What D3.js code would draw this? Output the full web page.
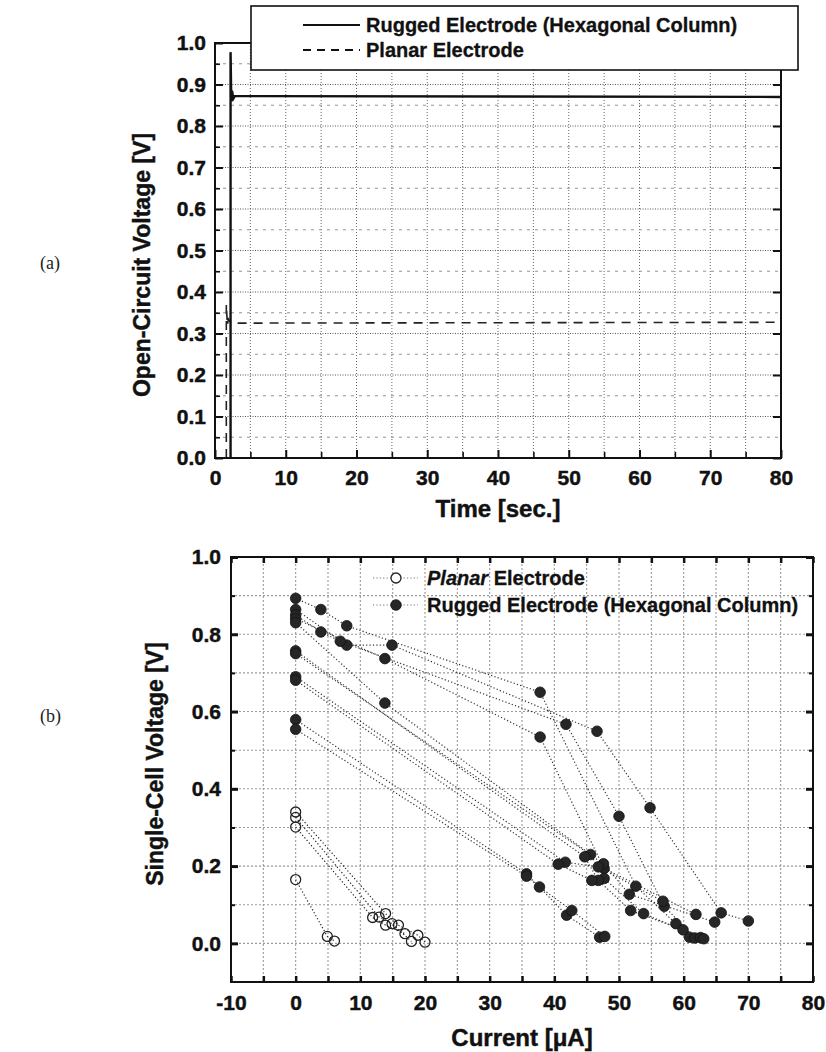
<!DOCTYPE html>
<html>
<head>
<meta charset="utf-8">
<script src="https://cdn.jsdelivr.net/npm/d3@7"></script>
<style>
  body{margin:0;background:#fff;}
  svg{display:block;font-family:"Liberation Sans",Arial,sans-serif;}
</style>
</head>
<body>
<svg id="fig" width="826" height="1052"></svg>
<script>
// ---- panel (a): open-circuit voltage vs time ----
var timeTicks = [0, 10, 20, 30, 40, 50, 60, 70, 80];
var ocvTicks = [0.0, 0.1, 0.2, 0.3, 0.4, 0.5, 0.6, 0.7, 0.8, 0.9, 1.0];

var ruggedTime = [2.2, 2.2, 2.3, 2.4, 2.6, 2.8, 80];
var ruggedOcv  = [0.0, 0.978, 0.86, 0.885, 0.866, 0.872, 0.870];
var planarTime = [1.6, 1.6, 1.75, 1.9, 2.3, 80];
var planarOcv  = [0.0, 0.37, 0.32, 0.335, 0.325, 0.327];

// ---- panel (b): single-cell voltage vs current ----
var currentTicks = [-10, 0, 10, 20, 30, 40, 50, 60, 70, 80];
var cellTicks = [0.0, 0.2, 0.4, 0.6, 0.8, 1.0];

// planar electrode, one array per sweep
var planarCurrent = [
  [0, 13.9, 15.9, 18.9, 20.0],
  [0, 12.9, 14.9, 17.9],
  [0, 11.9, 13.9, 16.9],
  [0, 4.9, 6.0]
];
var planarVoltage = [
  [0.340, 0.077, 0.047, 0.021, 0.003],
  [0.326, 0.068, 0.051, 0.005],
  [0.301, 0.067, 0.047, 0.025],
  [0.165, 0.018, 0.006]
];

// rugged electrode (hexagonal column), one array per sweep
var ruggedCurrent = [
  [0, 3.9, 7.9, 37.8, 52.6, 58.8, 60.9],
  [0, 7.9, 14.9, 46.6, 54.8, 65.8, 70.0],
  [0, 3.9, 6.9, 41.8, 50.0, 57.0, 61.7],
  [0, 13.8, 37.8, 47.7, 61.9],
  [0, 13.8, 45.6, 47.7, 53.8, 62.6],
  [0, 44.7, 46.8, 51.8, 59.9, 63.1],
  [0, 47.6, 51.6, 64.8],
  [0, 41.7, 46.8, 56.8],
  [0, 40.6, 45.8],
  [0, 35.7, 41.9, 47.0],
  [0, 35.7, 37.7, 42.7, 47.8]
];
var ruggedVoltage = [
  [0.893, 0.864, 0.822, 0.650, 0.148, 0.051, 0.016],
  [0.864, 0.772, 0.772, 0.549, 0.351, 0.079, 0.058],
  [0.850, 0.806, 0.782, 0.567, 0.329, 0.096, 0.014],
  [0.840, 0.737, 0.534, 0.194, 0.075],
  [0.830, 0.622, 0.230, 0.168, 0.077, 0.015],
  [0.757, 0.224, 0.163, 0.085, 0.035, 0.012],
  [0.750, 0.206, 0.127, 0.055],
  [0.690, 0.210, 0.198, 0.109],
  [0.681, 0.205, 0.163],
  [0.579, 0.180, 0.073, 0.016],
  [0.554, 0.174, 0.146, 0.085, 0.018]
];

var svg = d3.select("#fig");
var FONT = "Liberation Sans, Arial, sans-serif";

// midpoints between ticks, used for minor ticks / grid
function mids(arr){
  return d3.pairs(arr).map(function(p){ return (p[0] + p[1]) / 2; });
}

function hGrid(g, xs, ys, vals, color, dash, w){
  g.selectAll(null).data(vals).enter().append("line")
    .attr("x1", xs.range()[0]).attr("x2", xs.range()[1])
    .attr("y1", function(d){ return ys(d); }).attr("y2", function(d){ return ys(d); })
    .attr("stroke", color).attr("stroke-width", w).attr("stroke-dasharray", dash);
}
function vGrid(g, xs, ys, vals, color, dash, w){
  g.selectAll(null).data(vals).enter().append("line")
    .attr("y1", ys.range()[0]).attr("y2", ys.range()[1])
    .attr("x1", function(d){ return xs(d); }).attr("x2", function(d){ return xs(d); })
    .attr("stroke", color).attr("stroke-width", w).attr("stroke-dasharray", dash);
}

// heavy bold text like the scanned figure
function heavy(sel){
  sel.attr("font-weight", "bold").attr("fill", "#111")
    .attr("stroke", "#111").attr("stroke-width", 0.45);
}

// styles an axis group: bold labels, thick ticks, no domain
function styleAxis(g, fs, tw){
  g.attr("font-family", FONT).attr("font-size", fs);
  g.select(".domain").remove();
  g.selectAll(".tick line").attr("stroke", "#111").attr("stroke-width", tw);
  g.selectAll(".tick text").call(heavy);
}

var plainNum = function(d){ return String(d); };   // keeps "-10" with a hyphen

/* ================= panel (a) ================= */
var xa = d3.scaleLinear().domain([0, 80]).range([215, 781]);
var ya = d3.scaleLinear().domain([0, 1]).range([458, 43]);
var ga = svg.append("g");

vGrid(ga, xa, ya, d3.range(5, 80, 5), "#555", "1,2", 0.9);
hGrid(ga, xa, ya, ocvTicks.slice(1, -1), "#444", "1,1.5", 0.9);
hGrid(ga, xa, ya, mids(ocvTicks), "#888", "3,5", 0.9);

var lineA = d3.line().x(function(d){ return xa(d[0]); }).y(function(d){ return ya(d[1]); });

ga.append("path")
  .datum(d3.zip(planarTime, planarOcv))
  .attr("d", lineA).attr("fill", "none")
  .attr("stroke", "#222").attr("stroke-width", 1.6).attr("stroke-dasharray", "9,7");

ga.append("path")
  .datum(d3.zip(ruggedTime, ruggedOcv))
  .attr("d", lineA).attr("fill", "none")
  .attr("stroke", "#111").attr("stroke-width", 2.4);

ga.append("rect")
  .attr("x", xa(0)).attr("y", ya(1))
  .attr("width", xa(80) - xa(0)).attr("height", ya(0) - ya(1))
  .attr("fill", "none").attr("stroke", "#111").attr("stroke-width", 2);

ga.append("g").attr("transform", "translate(" + xa(0) + ",0)")
  .call(d3.axisLeft(ya).tickValues(ocvTicks).tickSize(-8).tickPadding(9).tickFormat(d3.format(".1f")))
  .call(styleAxis, 21, 2);
ga.append("g").attr("transform", "translate(" + xa(0) + ",0)")
  .call(d3.axisLeft(ya).tickValues(mids(ocvTicks)).tickSize(-5).tickFormat(""))
  .call(styleAxis, 21, 1.6);
ga.append("g").attr("transform", "translate(" + xa(80) + ",0)")
  .call(d3.axisRight(ya).tickValues(ocvTicks).tickSize(-8).tickFormat(""))
  .call(styleAxis, 21, 2);
ga.append("g").attr("transform", "translate(0," + ya(0) + ")")
  .call(d3.axisBottom(xa).tickValues(timeTicks).tickSize(-8).tickPadding(12).tickFormat(plainNum))
  .call(styleAxis, 21, 2);
ga.append("g").attr("transform", "translate(0," + ya(0) + ")")
  .call(d3.axisBottom(xa).tickValues(mids(timeTicks)).tickSize(-6).tickFormat(""))
  .call(styleAxis, 21, 1.6);

ga.append("text")
  .attr("x", (xa(0) + xa(80)) / 2).attr("y", 517)
  .attr("text-anchor", "middle").attr("font-size", 24)
  .call(heavy).text("Time [sec.]");
ga.append("text")
  .attr("transform", "translate(150,265) rotate(-90)")
  .attr("text-anchor", "middle").attr("font-size", 23)
  .call(heavy).text("Open-Circuit Voltage [V]");

// legend box sits over the top of the frame
var la = ga.append("g");
la.append("rect").attr("x", 251).attr("y", 6).attr("width", 547).attr("height", 64)
  .attr("fill", "#fff").attr("stroke", "#111").attr("stroke-width", 1.6);
la.append("line").attr("x1", 303).attr("x2", 360).attr("y1", 25).attr("y2", 25)
  .attr("stroke", "#111").attr("stroke-width", 2.2);
la.append("line").attr("x1", 303).attr("x2", 360).attr("y1", 50).attr("y2", 50)
  .attr("stroke", "#111").attr("stroke-width", 2.2).attr("stroke-dasharray", "8,6");
la.append("text").attr("x", 366).attr("y", 32).attr("font-size", 20)
  .call(heavy).attr("stroke-width", 0.3).text("Rugged Electrode (Hexagonal Column)");
la.append("text").attr("x", 366).attr("y", 57).attr("font-size", 20)
  .call(heavy).attr("stroke-width", 0.3).text("Planar Electrode");

svg.append("text").attr("x", 40).attr("y", 269)
  .attr("font-family", "Liberation Serif, serif").attr("font-size", 18).attr("fill", "#222").text("(a)");

/* ================= panel (b) ================= */
var xb = d3.scaleLinear().domain([-10, 80]).range([231, 813]);
var yb = d3.scaleLinear().domain([-0.1, 1.0]).range([982, 557]);
var gb = svg.append("g");

vGrid(gb, xb, yb, d3.range(-5, 80, 5), "#9a9a9a", "2,2", 1.1);
hGrid(gb, xb, yb, d3.range(0, 10).map(function(i){ return i / 10; }), "#9a9a9a", "2,2", 1.1);

var lineB = d3.line().x(function(d){ return xb(d[0]); }).y(function(d){ return yb(d[1]); });

function sweeps(cur, volt){
  return cur.map(function(c, i){ return d3.zip(c, volt[i]); });
}
var ruggedSweeps = sweeps(ruggedCurrent, ruggedVoltage);
var planarSweeps = sweeps(planarCurrent, planarVoltage);

gb.selectAll(".rl").data(ruggedSweeps).enter().append("path")
  .attr("d", lineB).attr("fill", "none")
  .attr("stroke", "#333").attr("stroke-width", 1.2).attr("stroke-dasharray", "1.2,2.2");
gb.selectAll(".pl").data(planarSweeps).enter().append("path")
  .attr("d", lineB).attr("fill", "none")
  .attr("stroke", "#222").attr("stroke-width", 1.2).attr("stroke-dasharray", "1.2,2.2");

gb.selectAll(".rp").data(d3.merge(ruggedSweeps)).enter().append("circle")
  .attr("cx", function(d){ return xb(d[0]); }).attr("cy", function(d){ return yb(d[1]); })
  .attr("r", 5.3).attr("fill", "#262626").attr("stroke", "#111").attr("stroke-width", 0.8);
gb.selectAll(".pp").data(d3.merge(planarSweeps)).enter().append("circle")
  .attr("cx", function(d){ return xb(d[0]); }).attr("cy", function(d){ return yb(d[1]); })
  .attr("r", 5).attr("fill", "none").attr("stroke", "#222").attr("stroke-width", 1.3);

gb.append("rect")
  .attr("x", xb(-10)).attr("y", yb(1))
  .attr("width", xb(80) - xb(-10)).attr("height", yb(-0.1) - yb(1))
  .attr("fill", "none").attr("stroke", "#111").attr("stroke-width", 2);

var cellMinor = mids(cellTicks);
gb.append("g").attr("transform", "translate(" + xb(-10) + ",0)")
  .call(d3.axisLeft(yb).tickValues(cellTicks).tickSize(-7).tickPadding(10).tickFormat(d3.format(".1f")))
  .call(styleAxis, 21, 3);
gb.append("g").attr("transform", "translate(" + xb(-10) + ",0)")
  .call(d3.axisLeft(yb).tickValues(cellMinor).tickSize(-4).tickFormat(""))
  .call(styleAxis, 21, 2);
gb.append("g").attr("transform", "translate(" + xb(80) + ",0)")
  .call(d3.axisRight(yb).tickValues(cellTicks).tickSize(-7).tickFormat(""))
  .call(styleAxis, 21, 3);
gb.append("g").attr("transform", "translate(" + xb(80) + ",0)")
  .call(d3.axisRight(yb).tickValues(cellMinor).tickSize(-4).tickFormat(""))
  .call(styleAxis, 21, 2);
gb.append("g").attr("transform", "translate(0," + yb(-0.1) + ")")
  .call(d3.axisBottom(xb).tickValues(currentTicks).tickSize(-6).tickPadding(13).tickFormat(plainNum))
  .call(styleAxis, 21, 2.5);
gb.append("g").attr("transform", "translate(0," + yb(-0.1) + ")")
  .call(d3.axisBottom(xb).tickValues(mids(currentTicks)).tickSize(-6).tickFormat(""))
  .call(styleAxis, 21, 2.5);
gb.append("g").attr("transform", "translate(0," + yb(1) + ")")
  .call(d3.axisTop(xb).tickValues(currentTicks.concat(mids(currentTicks))).tickSize(-6).tickFormat(""))
  .call(styleAxis, 21, 2.5);

gb.append("text")
  .attr("x", (xb(-10) + xb(80)) / 2).attr("y", 1046)
  .attr("text-anchor", "middle").attr("font-size", 24)
  .call(heavy).text("Current [\u03BCA]");
gb.append("text")
  .attr("transform", "translate(163,764) rotate(-90)")
  .attr("text-anchor", "middle").attr("font-size", 23)
  .call(heavy).text("Single-Cell Voltage [V]");

// legend (no frame)
var lb = gb.append("g");
[578, 605].forEach(function(y){
  lb.append("line").attr("x1", 373).attr("x2", 418).attr("y1", y).attr("y2", y)
    .attr("stroke", "#777").attr("stroke-width", 1.1).attr("stroke-dasharray", "1.2,2.2");
});
lb.append("circle").attr("cx", 396).attr("cy", 578).attr("r", 5)
  .attr("fill", "#fff").attr("stroke", "#222").attr("stroke-width", 1.3);
lb.append("circle").attr("cx", 396).attr("cy", 605).attr("r", 5.3)
  .attr("fill", "#262626").attr("stroke", "#111").attr("stroke-width", 0.8);
var t1 = lb.append("text").attr("x", 427).attr("y", 585).attr("font-size", 20)
  .call(heavy).attr("stroke-width", 0.3);
t1.append("tspan").attr("font-style", "italic").text("Planar");
t1.append("tspan").text(" Electrode");
lb.append("text").attr("x", 427).attr("y", 612).attr("font-size", 20)
  .call(heavy).attr("stroke-width", 0.3).text("Rugged Electrode (Hexagonal Column)");

svg.append("text").attr("x", 40).attr("y", 722)
  .attr("font-family", "Liberation Serif, serif").attr("font-size", 18).attr("fill", "#222").text("(b)");
</script>
</body>
</html>
